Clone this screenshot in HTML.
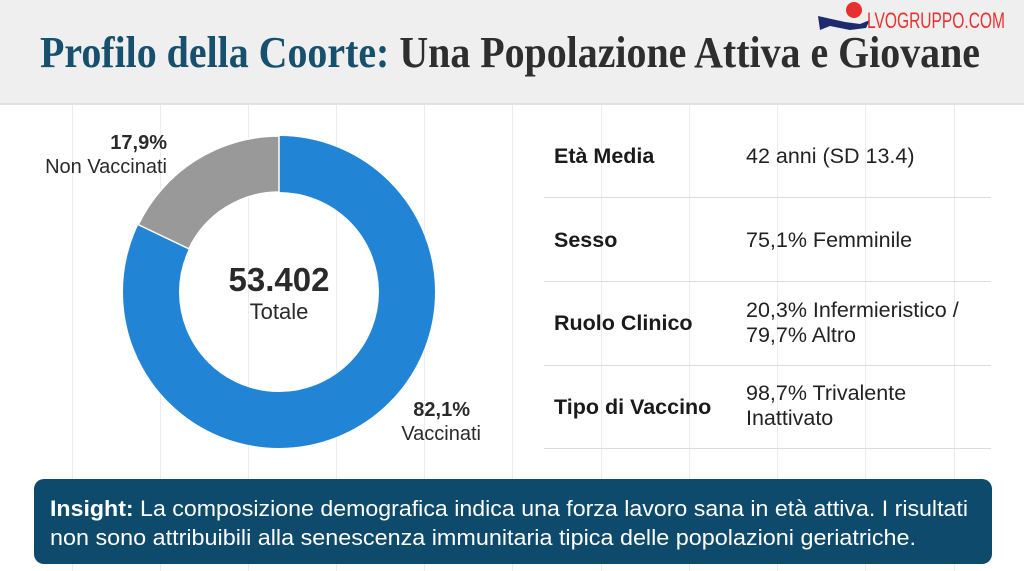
<!DOCTYPE html>
<html><head><meta charset="utf-8"><style>
html,body{margin:0;padding:0;}
body{width:1024px;height:571px;overflow:hidden;background:#fff;font-family:"Liberation Sans",sans-serif;position:relative;}
.hdr{position:absolute;left:0;top:0;width:1024px;height:103px;background:#efefef;border-bottom:2px solid #e2e2e2;}
.vl{position:absolute;top:105px;width:1px;height:466px;background:#ececec;}
.lbl{position:absolute;left:554px;font-weight:bold;font-size:21.5px;color:#1a1a1a;}
.val{position:absolute;left:746px;font-size:21.5px;color:#222;line-height:25px;}
.sep{position:absolute;left:544px;width:447px;height:1px;background:#dcdcdc;}
.box{position:absolute;left:34px;top:479px;width:958px;height:85px;background:#0e4a6b;border-radius:10px;}
</style></head><body>
<div class="hdr"></div>
<div class="vl" style="left:72px"></div><div class="vl" style="left:160px"></div><div class="vl" style="left:248px"></div><div class="vl" style="left:336px"></div><div class="vl" style="left:424px"></div><div class="vl" style="left:512px"></div><div class="vl" style="left:601px"></div><div class="vl" style="left:689px"></div><div class="vl" style="left:777px"></div><div class="vl" style="left:865px"></div><div class="vl" style="left:954px"></div>
<div class="lbl" style="top:144px">Età Media</div><div class="val" style="top:144px">42 anni (SD 13.4)</div>
<div class="sep" style="top:197px"></div>
<div class="lbl" style="top:228px">Sesso</div><div class="val" style="top:228px">75,1% Femminile</div>
<div class="sep" style="top:281px"></div>
<div class="lbl" style="top:311px">Ruolo Clinico</div><div class="val" style="top:298px">20,3% Infermieristico /<br>79,7% Altro</div>
<div class="sep" style="top:365px"></div>
<div class="lbl" style="top:395px">Tipo di Vaccino</div><div class="val" style="top:381px">98,7% Trivalente<br>Inattivato</div>
<div class="sep" style="top:448px"></div>
<div class="box"></div>
<svg width="1024" height="571" style="position:absolute;left:0;top:0">
<text x="40" y="67" font-family="Liberation Serif,serif" font-weight="bold" font-size="44" textLength="940" lengthAdjust="spacingAndGlyphs"><tspan fill="#17506c">Profilo della Coorte:</tspan><tspan fill="#2e2e2e"> Una Popolazione Attiva e Giovane</tspan></text>
<path d="M818 16 L845 22 L860 24 L870 20 L866 28 L850 30 L830 26 L820 30 Z" fill="#1c2a6e"/>
<circle cx="854" cy="10" r="8" fill="#e8312f"/>
<text x="867" y="28" font-family="Liberation Sans Narrow,Liberation Sans,sans-serif" font-size="22" fill="#e8312f" textLength="138" lengthAdjust="spacingAndGlyphs">LVOGRUPPO.COM</text>
<circle cx="279" cy="292" r="128" fill="none" stroke="#2284d4" stroke-width="56"/>
<path d="M279 136 A156 156 0 0 0 138.3 224.7 L188.8 248.8 A100 100 0 0 1 279 192 Z" fill="#999" stroke="#fff" stroke-width="1.5"/>
<text x="279" y="291" text-anchor="middle" font-weight="bold" font-size="33" fill="#2a2a2a">53.402</text>
<text x="279" y="319" text-anchor="middle" font-size="22" fill="#2a2a2a">Totale</text>
<text x="167" y="149" text-anchor="end" font-weight="bold" font-size="20" fill="#2a2a2a">17,9%</text>
<text x="167" y="173" text-anchor="end" font-size="20" fill="#2a2a2a">Non Vaccinati</text>
<text x="470" y="416" text-anchor="end" font-weight="bold" font-size="20" fill="#2a2a2a">82,1%</text>
<text x="481" y="440" text-anchor="end" font-size="20" fill="#2a2a2a">Vaccinati</text>
<text x="50" y="516" font-size="22" fill="#fff" textLength="918" lengthAdjust="spacingAndGlyphs"><tspan font-weight="bold">Insight:</tspan> La composizione demografica indica una forza lavoro sana in età attiva. I risultati</text>
<text x="50" y="545" font-size="22" fill="#fff" textLength="866" lengthAdjust="spacingAndGlyphs">non sono attribuibili alla senescenza immunitaria tipica delle popolazioni geriatriche.</text>
</svg>
</body></html>
